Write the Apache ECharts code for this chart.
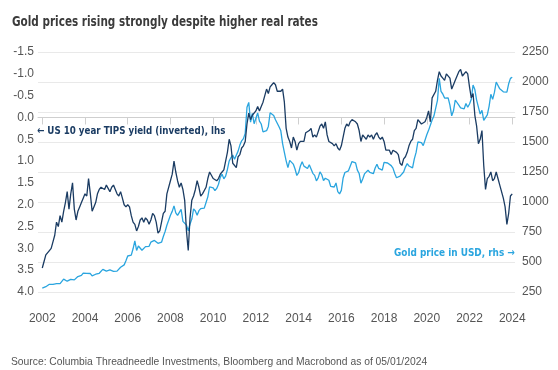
<!DOCTYPE html>
<html><head><meta charset="utf-8">
<script src="https://cdn.jsdelivr.net/npm/echarts@6/dist/echarts.min.js"></script>
<style>html,body{margin:0;padding:0;background:#fff}#c{width:558px;height:370px}</style>
</head><body><div id="c"></div>
<script>
// Monthly values, Jan 2002 .. Jan 2024
const startYear = 2002;
const tips = [
3.45,3.30,3.15,3.15,3.05,3.00,2.85,2.70,2.40,2.50,2.25,2.40,
2.15,1.95,1.70,2.10,1.75,1.50,2.10,2.35,2.15,2.05,1.95,1.85,
1.75,1.80,1.40,1.75,2.15,2.05,1.95,1.75,1.65,1.60,1.60,1.65,
1.55,1.55,1.70,1.60,1.55,1.55,1.75,1.80,1.70,1.85,2.00,2.05,
2.00,2.05,2.25,2.40,2.45,2.60,2.50,2.35,2.30,2.40,2.30,2.35,
2.45,2.35,2.20,2.25,2.40,2.65,2.60,2.40,2.20,2.15,1.75,1.75,
1.45,1.30,1.00,1.25,1.45,1.60,1.50,1.65,1.90,2.60,3.05,2.30,
1.90,1.80,1.65,1.45,1.60,1.80,1.75,1.75,1.60,1.40,1.25,1.25,
1.40,1.40,1.45,1.40,1.30,1.25,1.20,1.00,0.80,0.50,0.65,1.05,
1.05,1.15,0.90,0.85,0.70,0.65,0.55,0.15,-0.10,0.05,-0.05,-0.05,
-0.15,-0.25,-0.15,-0.25,-0.35,-0.50,-0.65,-0.55,-0.70,-0.75,-0.80,-0.75,
-0.60,-0.60,-0.60,-0.65,-0.35,0.25,0.45,0.55,0.70,0.45,0.55,0.75,
0.60,0.55,0.55,0.55,0.35,0.35,0.30,0.25,0.45,0.40,0.45,0.45,
0.20,0.15,0.25,0.10,0.40,0.55,0.55,0.60,0.65,0.60,0.70,0.75,
0.65,0.45,0.25,0.15,0.20,0.10,0.05,0.05,0.10,0.15,0.30,0.55,
0.40,0.45,0.50,0.40,0.45,0.40,0.50,0.40,0.35,0.45,0.50,0.45,
0.55,0.75,0.75,0.75,0.85,0.75,0.75,0.80,0.85,1.05,1.10,0.95,
0.90,0.80,0.65,0.55,0.50,0.30,0.25,0.05,0.05,0.15,0.15,0.10,
0.00,-0.15,0.10,-0.45,-0.45,-0.60,-0.85,-1.05,-0.95,-0.90,-0.85,-1.00,
-1.00,-0.90,-0.65,-0.75,-0.85,-0.85,-1.05,-1.10,-0.95,-0.95,-1.05,-1.00,
-0.70,-0.45,-0.55,-0.05,0.20,0.60,0.50,0.30,1.10,1.65,1.40,1.35,
1.25,1.45,1.40,1.25,1.40,1.55,1.55,1.85,2.05,2.45,2.20,1.80,
1.75
];
const gold = [
282,296,294,302,314,321,313,310,319,317,319,333,
357,359,340,328,355,356,351,360,379,379,389,407,
414,405,406,404,384,392,398,400,406,420,439,442,
424,423,434,429,422,431,424,438,456,470,476,510,
550,555,557,610,676,596,633,632,598,586,628,629,
631,665,655,680,668,656,665,665,713,754,806,803,
889,922,968,909,888,890,939,839,829,807,760,816,
858,943,925,890,928,945,934,949,996,1043,1127,1134,
1118,1095,1113,1148,1205,1232,1193,1215,1271,1342,1370,1391,
1356,1372,1424,1474,1510,1528,1572,1790,1830,1666,1739,1652,
1656,1742,1674,1650,1585,1596,1594,1630,1744,1747,1721,1685,
1671,1627,1593,1487,1414,1343,1286,1347,1349,1316,1275,1221,
1244,1300,1336,1299,1287,1279,1311,1296,1239,1222,1176,1201,
1251,1227,1179,1198,1199,1181,1131,1117,1125,1159,1086,1068,
1097,1200,1246,1242,1260,1276,1337,1340,1326,1266,1238,1157,
1192,1234,1231,1266,1246,1260,1236,1283,1315,1280,1281,1265,
1331,1331,1325,1335,1303,1282,1238,1202,1198,1215,1221,1250,
1291,1320,1300,1285,1284,1359,1413,1500,1511,1495,1470,1480,
1560,1597,1592,1683,1716,1732,1847,2030,1921,1900,1866,1858,
1867,1808,1718,1760,1850,1834,1807,1785,1775,1777,1821,1790,
1817,1856,1975,1937,1849,1837,1733,1764,1681,1665,1726,1797,
1898,1855,1913,2000,1992,1943,1951,1918,1916,1916,1985,2030,
2040
];
const yearTicks = [2002,2004,2006,2008,2010,2012,2014,2016,2018,2020,2022,2024];
const leftTicks = [-1.5,-1.0,-0.5,0.0,0.5,1.0,1.5,2.0,2.5,3.0,3.5,4.0];
const rightTicks = [250,500,750,1000,1250,1500,1750,2000,2250];
const titleText = 'Gold prices rising strongly despite higher real rates';
const tipsLabel = '\u2190 US 10 year TIPS yield (inverted), lhs';
const goldLabel = 'Gold price in USD, rhs \u2192';
const sourceText = 'Source: Columbia Threadneedle Investments, Bloomberg and Macrobond as of 05/01/2024';

const dates = tips.map((_, i) => startYear + i / 12);
const tipsData = tips.map((v, i) => [dates[i], v]);
const goldData = gold.map((v, i) => [dates[i], v]);

const NARROW = "'Liberation Sans Narrow','Arial Narrow','DejaVu Sans Condensed',Roboto,sans-serif";
const REG = "'Liberation Sans',Arial,sans-serif";
const DARK = '#1b3c63';
const LIGHT = '#2aa5df';

const chart = echarts.init(document.getElementById('c'), null, {renderer: 'canvas'});
chart.setOption({
  animation: false,
  backgroundColor: '#fff',
  grid: {left: 38, right: 43, top: 52, bottom: 78},
  xAxis: {
    type: 'value', min: 2001.8, max: 2024.13, offset: 11,
    axisLine: {show: true, lineStyle: {color: '#cfcfcf'}},
    axisTick: {show: true, length: 7, customValues: yearTicks, lineStyle: {color: '#cfcfcf'}},
    axisLabel: {customValues: yearTicks, formatter: v => String(Math.round(v)), margin: 10,
      fontFamily: REG, fontSize: 12, color: '#555'},
    splitLine: {show: false}
  },
  yAxis: [
    {
      type: 'value', position: 'left', inverse: true,
      min: leftTicks[0], max: leftTicks[leftTicks.length - 1], interval: 0.5,
      axisLine: {show: false}, axisTick: {show: false}, splitLine: {show: false},
      axisLabel: {formatter: v => v.toFixed(1), margin: 4, fontFamily: REG, fontSize: 12, color: '#555'}
    },
    {
      type: 'value', position: 'right',
      min: rightTicks[0], max: rightTicks[rightTicks.length - 1], interval: 250,
      axisLine: {show: false}, axisTick: {show: false},
      splitLine: {show: true, lineStyle: {color: '#e9e9e9', width: 1}},
      axisLabel: {formatter: v => String(v), margin: 7, fontFamily: REG, fontSize: 12, color: '#555'}
    }
  ],
  series: [
    {type: 'line', name: 'Gold', yAxisIndex: 1, data: goldData, showSymbol: false, symbol: 'none',
      lineStyle: {color: LIGHT, width: 1.3}, z: 2},
    {type: 'line', name: 'TIPS', yAxisIndex: 0, data: tipsData, showSymbol: false, symbol: 'none',
      lineStyle: {color: DARK, width: 1.3}, z: 3}
  ],
  graphic: [
    {type: 'text', x: 12, y: 15, scaleX: 0.83, style: {text: titleText, fill: '#3b3b3b',
      font: "bold 14px " + NARROW, textBaseline: 'middle'}},
    {type: 'text', x: 37, y: 126, scaleX: 0.88, style: {text: tipsLabel, fill: DARK,
      font: "bold 11px " + NARROW, textBaseline: 'middle'}},
    {type: 'text', x: 394, y: 248, scaleX: 0.9, style: {text: goldLabel, fill: LIGHT,
      font: "bold 11px " + NARROW, textBaseline: 'middle'}},
    {type: 'text', x: 11, y: 357, style: {text: sourceText, fill: '#555',
      font: "10.3px " + REG, textBaseline: 'middle'}}
  ]
});
</script></body></html>
